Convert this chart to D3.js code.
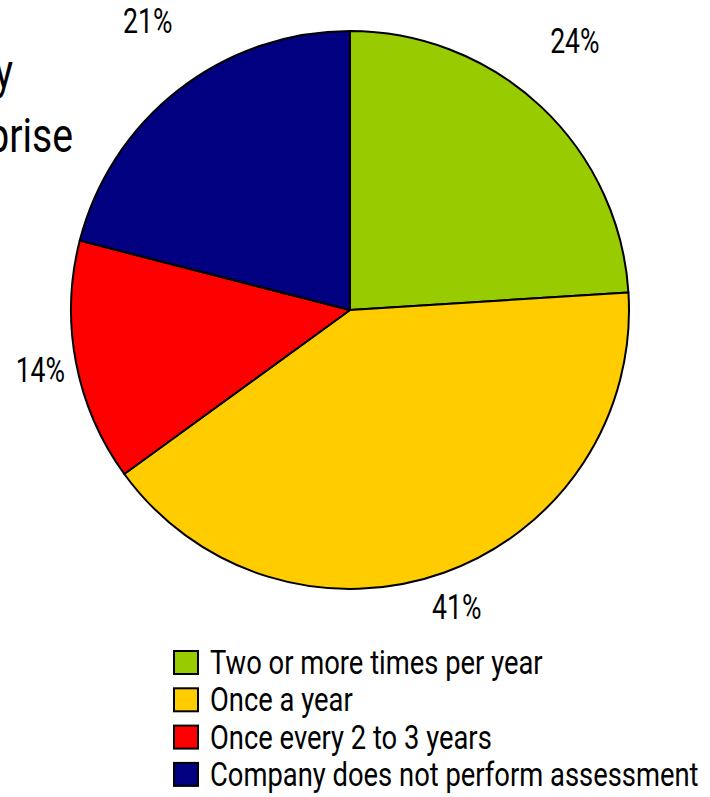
<!DOCTYPE html>
<html>
<head>
<meta charset="utf-8">
<script src="https://cdn.jsdelivr.net/npm/d3@7"></script>
<style>
  body { margin: 0; background: #fff; }
  svg { display: block; font-family: Roboto, "Liberation Sans", sans-serif; }
</style>
</head>
<body>
<svg></svg>
<script>
var width = 710;
var height = 797;

var categories = [
  "Two or more times per year",
  "Once a year",
  "Once every 2 to 3 years",
  "Company does not perform assessment"
];
var values = [24, 41, 14, 21];
var colors = ["#99cc00", "#ffcc00", "#ff0000", "#000080"];
var titleLines = ["Assessment Frequency", "by Enterprise"];

var data = categories.map((c, i) => ({ name: c, value: values[i] }));

// the original font is a condensed grotesque, so squeeze Roboto a bit
function condense(sel, f) {
    sel.each(function() {
        var w = this.getComputedTextLength();
        d3.select(this)
            .attr("textLength", w * f)
            .attr("lengthAdjust", "spacingAndGlyphs");
    });
}

var svg = d3.select("svg")
    .attr("width", width)
    .attr("height", height);

// title is cut off at the left edge of the picture
svg.append("g")
    .classed("title", true)
    .selectAll("text")
    .data(titleLines)
    .enter()
    .append("text")
        .attr("x", (d, i) => i === 0 ? 13 : 73)
        .attr("y", (d, i) => 88 + i * 64)
        .style("font-size", "49px")
        .style("text-anchor", "end")
        .text(d => d)
        .call(condense, 0.8);

var cx = 350, cy = 310, radius = 279;

var colorScale = d3.scaleOrdinal()
    .domain(categories)
    .range(colors);

var arcs = d3.pie()
    .sort(null)
    .value(d => d.value)(data);

var path = d3.arc()
    .outerRadius(radius)
    .innerRadius(0);

var chart = svg.append("g")
    .attr("transform", `translate(${cx}, ${cy})`)
    .classed("chart", true);

chart.selectAll(".arc")
    .data(arcs)
    .enter()
    .append("path")
        .classed("arc", true)
        .attr("fill", d => colorScale(d.data.name))
        .attr("stroke", "#000")
        .attr("stroke-width", 2)
        .attr("stroke-linejoin", "round")
        .attr("d", path);

var labelArc = d3.arc()
    .outerRadius(radius * 1.13)
    .innerRadius(radius * 1.13);

chart.selectAll(".label")
    .data(arcs)
    .enter()
    .append("text")
        .classed("label", true)
        .attr("transform", d => {
            var c = labelArc.centroid(d);
            // labels above the centre sit higher up and a bit further out
            if (c[1] < 0) { c[1] -= 40; c[0] += c[0] < 0 ? -9 : 9; }
            return `translate(${c[0]}, ${c[1]})`;
        })
        .attr("dy", "0.36em")
        .style("font-size", "35px")
        .style("text-anchor", "middle")
        .text(d => d.data.value + "%")
        .call(condense, 0.76);

var legend = svg.append("g")
    .attr("transform", "translate(174, 651)")
    .classed("legend", true);

var rows = legend.selectAll(".row")
    .data(data)
    .enter()
    .append("g")
        .classed("row", true)
        .attr("transform", (d, i) => `translate(0, ${i * 37.3})`);

rows.append("rect")
    .attr("width", 24)
    .attr("height", 23)
    .attr("fill", d => colorScale(d.name))
    .attr("stroke", "#000")
    .attr("stroke-width", 2);

rows.append("text")
    .attr("x", 36)
    .attr("y", 23)
    .style("font-size", "34px")
    .text(d => d.name)
    .call(condense, 0.805);
</script>
</body>
</html>
